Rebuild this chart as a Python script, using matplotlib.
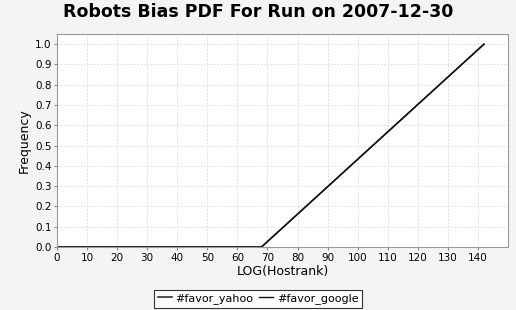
import matplotlib
matplotlib.use("Agg")
import matplotlib.pyplot as plt

# series
yahoo_x = [0, 68, 142]
yahoo_y = [0.0, 0.0, 1.0]
google_x = [0, 68, 142]
google_y = [0.0, 0.0, 1.0]

x_ticks = list(range(0, 150, 10))
y_ticks = [i / 10 for i in range(11)]

fig = plt.figure(figsize=(5.16, 3.10), dpi=100)
fig.patch.set_facecolor("#f4f4f4")
ax = fig.add_axes([0.1105, 0.2032, 0.874, 0.687])

ax.plot(yahoo_x, yahoo_y, color="#333333", lw=1.2, label="#favor_yahoo")
ax.plot(google_x, google_y, color="#111111", lw=1.0, label="#favor_google")

ax.set_xlim(0, 150)
ax.set_ylim(0, 1.05)
ax.set_xticks(x_ticks)
ax.set_yticks(y_ticks)
ax.set_yticklabels([f"{v:.1f}" for v in y_ticks])
ax.tick_params(labelsize=7.5, length=2, color="#888888", pad=2)
ax.grid(True, color="#d8d8d8", linestyle=(0, (2, 2)), lw=0.6)
for s in ax.spines.values():
    s.set_color("#999999")

ax.set_xlabel("LOG(Hostrank)", fontsize=9, labelpad=2)
ax.set_ylabel("Frequency", fontsize=9, labelpad=3)
fig.suptitle("Robots Bias PDF For Run on 2007-12-30", fontsize=12.5,
             fontweight="bold", y=0.99)

leg = fig.legend(loc="lower center", bbox_to_anchor=(0.5, -0.01), ncol=2,
                 fontsize=8, frameon=True, fancybox=False, handlelength=1.3,
                 handletextpad=0.3, columnspacing=0.5, borderpad=0.3)
leg.get_frame().set_edgecolor("black")
leg.get_frame().set_facecolor("white")
leg.get_frame().set_linewidth(0.8)

fig.savefig("out.png", dpi=100, facecolor=fig.get_facecolor())
